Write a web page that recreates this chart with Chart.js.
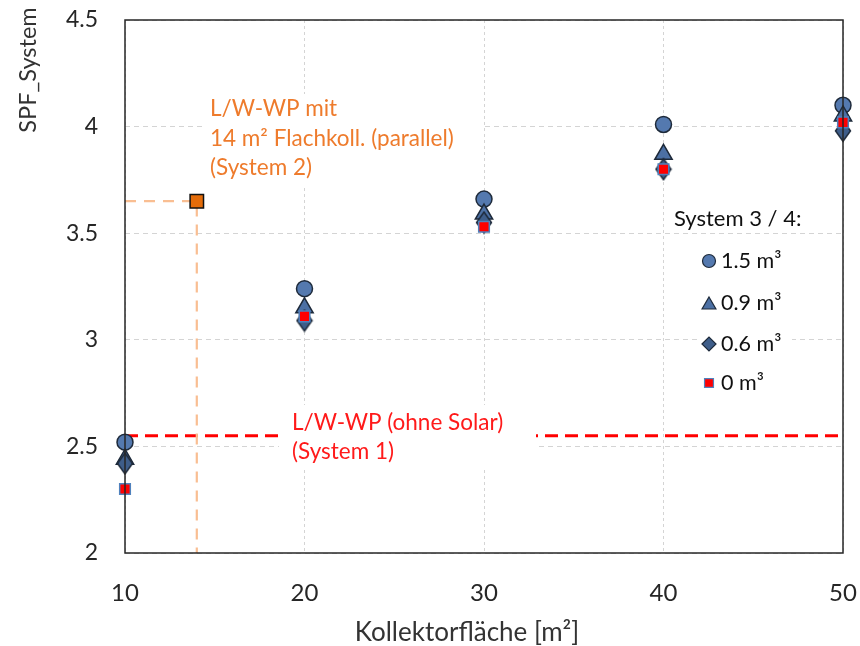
<!DOCTYPE html>
<html>
<head>
<meta charset="utf-8">
<script src="https://cdn.jsdelivr.net/npm/chart.js@4/dist/chart.umd.min.js"></script>
<style>
  html, body { margin: 0; padding: 0; background: #ffffff; }
  canvas { display: block; }
</style>
</head>
<body>
<canvas id="chart" width="860" height="646"></canvas>
<script>
// Collector area [m²] and seasonal performance factor per storage volume
const collectorAreas = [10, 20, 30, 40, 50];
const spfStorage15 = [2.52, 3.24, 3.66, 4.01, 4.10];
const spfStorage09 = [2.44, 3.15, 3.59, 3.87, 4.05];
const spfStorage06 = [2.42, 3.09, 3.55, 3.80, 3.98];
const spfStorage00 = [2.30, 3.11, 3.53, 3.80, 4.02];
const storageLabels = ['1.5 m³', '0.9 m³', '0.6 m³', '0 m³'];

// Reference systems
const system1Spf = 2.55;          // air/water heat pump without solar
const system2Area = 14;           // 14 m² flat-plate collectors (parallel)
const system2Spf = 3.65;

// Axis ticks
const xTicks = [10, 20, 30, 40, 50];
const yTicks = [2, 2.5, 3, 3.5, 4, 4.5];

const FONT = 'Lato, "Open Sans", "DejaVu Sans", sans-serif';
const MARK_FILL_CIRCLE = '#5479AF';
const MARK_FILL_TRI = '#4C70A4';
const MARK_FILL_DIA = '#3E5D89';
const MARK_EDGE = '#1E2A3A';

// tall diamond marker
function makeDiamond(w, h, fill, edge, lw) {
  const c = document.createElement('canvas');
  c.width = w + 2 * lw; c.height = h + 2 * lw;
  const g = c.getContext('2d');
  const cx = c.width / 2, cy = c.height / 2;
  g.beginPath();
  g.moveTo(cx, cy - h / 2);
  g.lineTo(cx + w / 2, cy);
  g.lineTo(cx, cy + h / 2);
  g.lineTo(cx - w / 2, cy);
  g.closePath();
  g.fillStyle = fill; g.fill();
  g.lineWidth = lw; g.strokeStyle = edge; g.stroke();
  return c;
}
const diamondMark = makeDiamond(15, 21, MARK_FILL_DIA, MARK_EDGE, 1.5);

const toPoints = ys => collectorAreas.map((x, i) => ({ x, y: ys[i] }));

// keep the plot area fixed: no extra room for edge tick labels
function fixScale(s, size) {
  if (s.isHorizontal()) s.height = size; else s.width = size;
  s.paddingLeft = 0; s.paddingRight = 0; s.paddingTop = 0; s.paddingBottom = 0;
}

// frame, text boxes, annotations, legend and axis titles
const decorations = {
  id: 'decorations',
  afterDatasetsDraw(chart) {
    const { ctx, chartArea: a } = chart;
    ctx.save();

    // white boxes behind the annotation texts
    ctx.fillStyle = '#ffffff';
    ctx.fillRect(205, 94, 278, 92);
    ctx.fillRect(279, 405, 257, 64);

    // System 2 annotation
    ctx.fillStyle = '#EE7B2C';
    ctx.font = '22.5px ' + FONT;
    ctx.textAlign = 'left';
    ctx.textBaseline = 'middle';
    ctx.fillText('L/W-WP mit', 210, 109);
    ctx.fillText('14 m² Flachkoll. (parallel)', 210, 139);
    ctx.fillText('(System 2)', 210, 168);

    // System 1 annotation
    ctx.fillStyle = '#FF1A1A';
    ctx.fillText('L/W-WP (ohne Solar)', 292, 423);
    ctx.fillText('(System 1)', 292, 452);

    // legend
    ctx.fillStyle = '#ffffff';
    ctx.fillRect(668, 204, 140, 28);
    const rows = [261, 303, 344, 383];
    rows.forEach(r => ctx.fillRect(697, r - 12, 95, 24));
    ctx.fillStyle = '#111111';
    ctx.font = '22px ' + FONT;
    ctx.fillText('System 3 / 4:', 674, 219);
    const styles = [
      { pointStyle: 'circle', radius: 6.5, backgroundColor: MARK_FILL_CIRCLE, borderColor: MARK_EDGE },
      { pointStyle: 'triangle', radius: 8, backgroundColor: MARK_FILL_TRI, borderColor: MARK_EDGE },
      { pointStyle: 'rectRot', radius: 7, backgroundColor: MARK_FILL_DIA, borderColor: MARK_EDGE },
      { pointStyle: 'rect', radius: 6.3, backgroundColor: '#FF0000', borderColor: '#4F81BD' }
    ];
    ctx.font = '21.5px ' + FONT;
    styles.forEach((s, i) => {
      ctx.fillStyle = s.backgroundColor;
      ctx.strokeStyle = s.borderColor;
      ctx.lineWidth = 1.2;
      Chart.helpers.drawPoint(ctx, { pointStyle: s.pointStyle, radius: s.radius, rotation: 0, borderWidth: 1.2 }, 709, rows[i] + (s.pointStyle === 'triangle' ? 2 : 0));
      ctx.fillStyle = '#111111';
      ctx.fillText(storageLabels[i], 721, rows[i]);
    });

    // plot frame
    ctx.strokeStyle = '#262626';
    ctx.lineWidth = 1.5;
    ctx.strokeRect(a.left, a.top, a.right - a.left, a.bottom - a.top);

    // axis titles
    ctx.fillStyle = '#333333';
    ctx.font = '26px ' + FONT;
    ctx.textAlign = 'center';
    ctx.fillText('Kollektorfläche [m²]', 467, 633);
    ctx.font = '23.5px ' + FONT;
    ctx.translate(28, 70);
    ctx.rotate(-Math.PI / 2);
    ctx.fillText('SPF_System', 0, 0);
    ctx.restore();
  }
};

new Chart(document.getElementById('chart'), {
  type: 'scatter',
  data: {
    datasets: [
      {
        label: 'System 1',
        type: 'line',
        data: [{ x: xTicks[0], y: system1Spf }, { x: xTicks[xTicks.length - 1], y: system1Spf }],
        borderColor: '#FF0000',
        borderWidth: 3,
        borderDash: [13, 7],
        pointRadius: 0,
        fill: false,
        clip: false,
        order: 10
      },
      {
        label: 'System 2 guides',
        type: 'line',
        data: [{ x: xTicks[0], y: system2Spf }, { x: system2Area, y: system2Spf }, { x: system2Area, y: yTicks[0] }],
        borderColor: '#F9BE92',
        borderWidth: 2.2,
        borderDash: [11, 8],
        pointRadius: 0,
        fill: false,
        clip: false,
        order: 9
      },
      {
        label: storageLabels[0],
        data: toPoints(spfStorage15),
        pointStyle: 'circle',
        pointRadius: 8,
        backgroundColor: MARK_FILL_CIRCLE,
        borderColor: MARK_EDGE,
        borderWidth: 1.5,
        clip: false,
        order: 4
      },
      {
        label: storageLabels[1],
        data: toPoints(spfStorage09),
        pointStyle: 'triangle',
        pointRadius: 10,
        backgroundColor: MARK_FILL_TRI,
        borderColor: MARK_EDGE,
        borderWidth: 1.5,
        clip: false,
        order: 3
      },
      {
        label: storageLabels[2],
        data: toPoints(spfStorage06),
        pointStyle: diamondMark,
        pointRadius: 10,
        clip: false,
        order: 2
      },
      {
        label: storageLabels[3],
        data: toPoints(spfStorage00),
        pointStyle: 'rect',
        pointRadius: 7.5,
        backgroundColor: '#FF0000',
        borderColor: '#4F81BD',
        borderWidth: 1.5,
        clip: false,
        order: 1
      },
      {
        label: 'System 2',
        data: [{ x: system2Area, y: system2Spf }],
        pointStyle: 'rect',
        pointRadius: 9.5,
        backgroundColor: '#E46C0A',
        borderColor: '#111111',
        borderWidth: 1.5,
        clip: false,
        order: 0
      }
    ]
  },
  options: {
    responsive: false,
    animation: false,
    events: [],
    layout: { padding: { top: 20, right: 17, left: 0, bottom: 0 } },
    plugins: { legend: { display: false }, tooltip: { enabled: false } },
    scales: {
      x: {
        type: 'linear',
        min: xTicks[0],
        max: xTicks[xTicks.length - 1],
        afterBuildTicks: s => { s.ticks = xTicks.map(v => ({ value: v })); },
        afterFit: s => fixScale(s, 93),
        grid: { color: '#D4D4D4', lineWidth: 1, drawTicks: false },
        border: { display: false, dash: [3, 3] },
        ticks: { padding: 26, color: '#262626', font: { family: FONT, size: 24 }, callback: v => String(v) }
      },
      y: {
        type: 'linear',
        min: yTicks[0],
        max: yTicks[yTicks.length - 1],
        afterBuildTicks: s => { s.ticks = yTicks.map(v => ({ value: v })); },
        afterFit: s => fixScale(s, 125),
        grid: { color: '#D4D4D4', lineWidth: 1, drawTicks: false },
        border: { display: false, dash: [5, 4] },
        ticks: { padding: 27, color: '#262626', font: { family: FONT, size: 23 }, callback: v => String(v) }
      }
    }
  },
  plugins: [decorations]
});
</script>
</body>
</html>
